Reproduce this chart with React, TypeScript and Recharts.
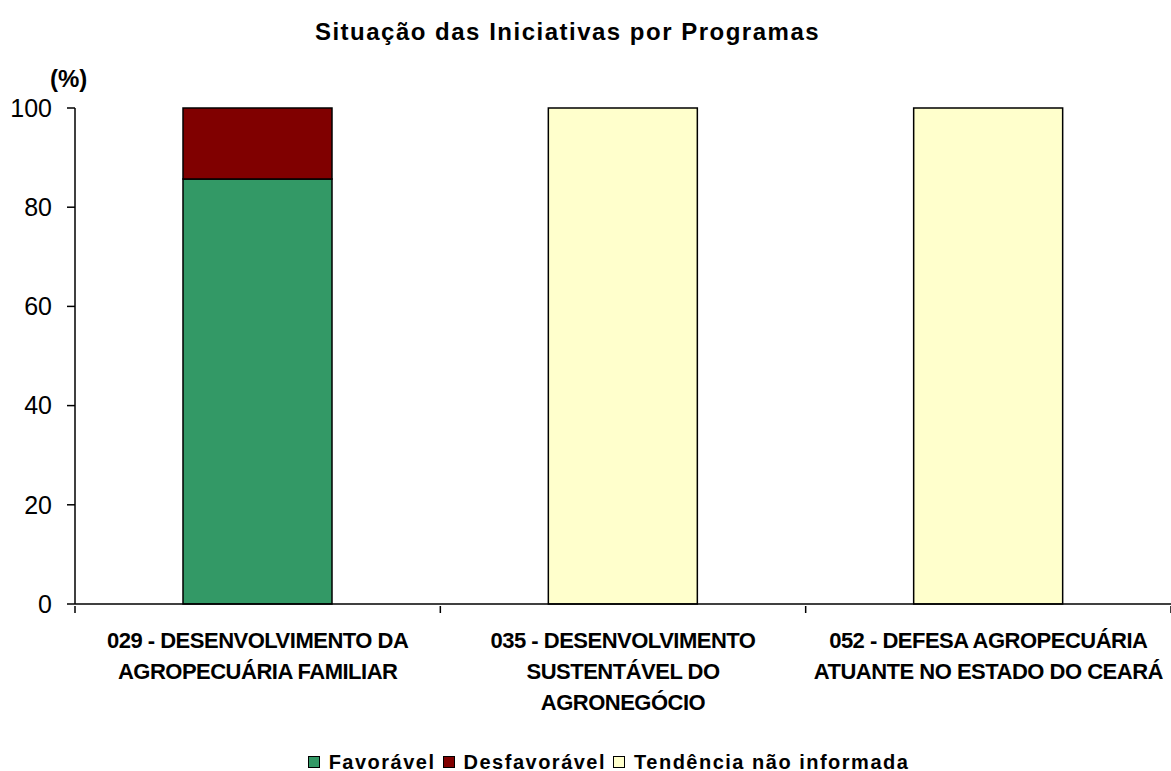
import React from 'react';
import { BarChart, Bar, XAxis, YAxis, Legend } from 'recharts';

const CATEGORIES = [
  ['029 - DESENVOLVIMENTO DA', 'AGROPECUÁRIA FAMILIAR'],
  ['035 - DESENVOLVIMENTO', 'SUSTENTÁVEL DO', 'AGRONEGÓCIO'],
  ['052 - DEFESA AGROPECUÁRIA', 'ATUANTE NO ESTADO DO CEARÁ'],
];
const FAVORAVEL = [85.7, 0, 0];
const DESFAVORAVEL = [14.3, 0, 0];
const NAO_INFORMADA = [0, 100, 100];
const Y_TICKS = [0, 20, 40, 60, 80, 100];

const SERIES = [
  { key: 'fav', name: 'Favorável', color: '#339966' },
  { key: 'desfav', name: 'Desfavorável', color: '#800000' },
  { key: 'ni', name: 'Tendência não informada', color: '#FFFFCC' },
];

const data = CATEGORIES.map((c, i) => ({
  name: String(i),
  fav: FAVORAVEL[i],
  desfav: DESFAVORAVEL[i],
  ni: NAO_INFORMADA[i],
}));

const FONT = 'Arial, "Liberation Sans", sans-serif';

// label lines + the separator tick marks between categories
function CategoryTick(props: any) {
  const { x, y, payload, index, visibleTicksCount } = props;
  const half = payload.offset ?? 0;
  const lines = CATEGORIES[Number(payload.value)];
  const axisY = y - 6;
  return (
    <g>
      <line x1={x - half} y1={axisY} x2={x - half} y2={axisY + 7} stroke="#000" strokeWidth={1.5} />
      {index === visibleTicksCount - 1 && (
        <line x1={x + half} y1={axisY} x2={x + half} y2={axisY + 7} stroke="#000" strokeWidth={1.5} />
      )}
      <text
        x={x}
        y={y}
        textAnchor="middle"
        fill="#000"
        fontFamily={FONT}
        fontWeight="bold"
        fontSize={22}
        letterSpacing={-0.5}
      >
        {lines.map((l, i) => (
          <tspan key={i} x={x} dy={i === 0 ? 36 : 31}>
            {l}
          </tspan>
        ))}
      </text>
    </g>
  );
}

function LegendContent() {
  return (
    <div
      style={{
        display: 'flex',
        justifyContent: 'center',
        alignItems: 'center',
        fontFamily: FONT,
        fontWeight: 'bold',
        fontSize: 20,
        letterSpacing: 1.5,
        height: 24,
        position: 'relative',
        top: 3,
        paddingLeft: 53,
      }}
    >
      {SERIES.map((s) => (
        <span key={s.key} style={{ display: 'flex', alignItems: 'center', marginRight: 7 }}>
          <span
            style={{
              display: 'inline-block',
              width: 10,
              height: 10,
              background: s.color,
              border: '1.5px solid #000',
              marginRight: 9,
            }}
          />
          {s.name}
        </span>
      ))}
    </div>
  );
}

export default function App() {
  return (
    <div style={{ position: 'absolute', left: 0, top: 0, width: 1171, height: 771, background: '#fff' }}>
      <div
        style={{
          position: 'absolute',
          top: 18,
          left: 0,
          width: 1135,
          textAlign: 'center',
          fontFamily: FONT,
          fontWeight: 'bold',
          fontSize: 24,
          letterSpacing: 1.5,
        }}
      >
        Situação das Iniciativas por Programas
      </div>
      <div
        style={{
          position: 'absolute',
          top: 65,
          left: 50,
          fontFamily: FONT,
          fontWeight: 'bold',
          fontSize: 24,
        }}
      >
        (%)
      </div>
      <BarChart
        width={1171}
        height={771}
        data={data}
        margin={{ top: 108, right: 0, left: 0, bottom: 0 }}
        barSize={149}
      >
        <XAxis
          dataKey="name"
          tick={<CategoryTick />}
          tickLine={false}
          axisLine={{ stroke: '#000', strokeWidth: 1.5 }}
          interval={0}
          height={143}
        />
        <YAxis
          domain={[0, 100]}
          ticks={Y_TICKS}
          width={75}
          tickSize={8}
          tickMargin={15}
          axisLine={{ stroke: '#000', strokeWidth: 1.5 }}
          tickLine={{ stroke: '#000', strokeWidth: 1.5 }}
          tick={{ fill: '#000', fontFamily: FONT, fontSize: 25 }}
        />
        {SERIES.map((s) => (
          <Bar
            key={s.key}
            dataKey={s.key}
            name={s.name}
            stackId="a"
            fill={s.color}
            stroke="#000"
            strokeWidth={1.5}
            isAnimationActive={false}
          />
        ))}
        <Legend verticalAlign="bottom" height={24} content={<LegendContent />} />
      </BarChart>
    </div>
  );
}
